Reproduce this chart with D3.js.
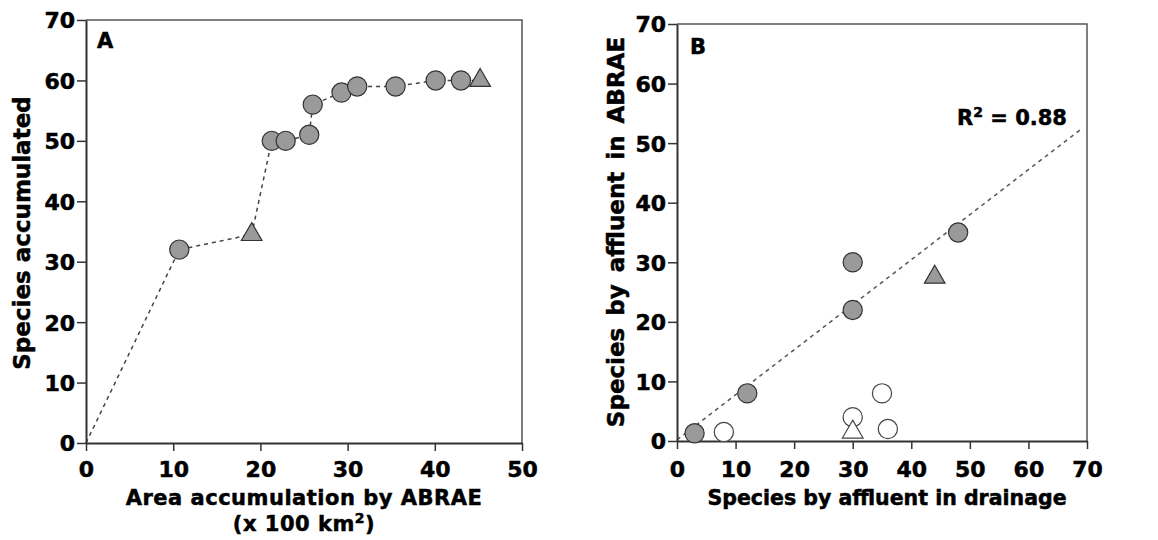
<!DOCTYPE html>
<html>
<head>
<meta charset="utf-8">
<script src="https://cdn.jsdelivr.net/npm/d3@7"></script>
<style>
  body { margin: 0; background: #fff; }
  svg text { font-family: "DejaVu Sans", "Liberation Sans", Arial, sans-serif; font-weight: bold; fill: #000;
             stroke: #000; stroke-width: 0.5px; }
</style>
</head>
<body>
<svg id="chart" width="1158" height="540"></svg>
<script>
// ---- panel A: species accumulation curve ----
var areaA    = [10.7, 19.0, 21.3, 22.9, 25.6, 26.0, 29.3, 31.1, 35.5, 40.1, 43.0, 45.2];
var speciesA = [32,   34.5, 50,   50,   51,   56,   58,   59,   59,   60,   60,   60];
var shapeA   = ["c",  "t",  "c",  "c",  "c",  "c",  "c",  "c",  "c",  "c",  "c",  "t"];

// ---- panel B: species by affluent ----
var drainB = [3,   12, 30, 30, 48, 44,   8,   30, 35, 36, 30];
var abraeB = [1.3, 8,  22, 30, 35, 27.5, 1.5, 4,  8,  2,  1.5];
var shapeB = ["c", "c", "c", "c", "c", "t", "c", "c", "c", "c", "t"];
var fillB  = ["g", "g", "g", "g", "g", "g", "w", "w", "w", "w", "w"];
var fitB   = [[0, 0.2], [68.8, 52.2]];   // regression line ends, data units

var ticksA_x = [0, 10, 20, 30, 40, 50];
var ticksA_y = [0, 10, 20, 30, 40, 50, 60, 70];
var ticksB   = [0, 10, 20, 30, 40, 50, 60, 70];

var svg = d3.select("#chart");
var gray = "#9a9a9a", edge = "#333";

function frame(g, x, y) {
  var x0 = x.range()[0], x1 = x.range()[1], y0 = y.range()[0], y1 = y.range()[1];
  g.append("path")
    .attr("d", "M" + x0 + "," + y1 + "H" + x1 + "V" + y0)
    .attr("fill", "none").attr("stroke", "#555").attr("stroke-width", 1.5);
}

function axes(g, x, y, xt, yt, pad) {
  var ax = g.append("g").attr("transform", "translate(0," + y.range()[0] + ")")
    .call(d3.axisBottom(x).tickValues(xt).tickSize(8).tickPadding(pad).tickSizeOuter(0));
  var ay = g.append("g").attr("transform", "translate(" + x.range()[0] + ",0)")
    .call(d3.axisLeft(y).tickValues(yt).tickSize(9).tickPadding(2).tickSizeOuter(0));
  [ax, ay].forEach(function(a) {
    a.attr("font-family", null).attr("font-size", null);
    a.select(".domain").attr("stroke", "#333").attr("stroke-width", 2);
    a.selectAll(".tick line").attr("stroke", "#333").attr("stroke-width", 1.5);
    a.selectAll(".tick text").style("font-size", "22px").attr("fill", "#000");
  });
  ay.selectAll(".tick text").attr("dy", "0.36em");
}

function marks(g, pts) {
  g.selectAll("path.pt").data(pts).enter().append("path")
    .attr("class", "pt")
    .attr("transform", function(d) { return "translate(" + d.px + "," + d.py + ")"; })
    .attr("d", function(d) {
      return d.shape === "t" ? d3.symbol(d3.symbolTriangle, 185)() : d3.symbol(d3.symbolCircle, 290)();
    })
    .attr("fill", function(d) { return d.fill === "w" ? "#fff" : gray; })
    .attr("stroke", function(d) { return d.fill === "w" ? "#444" : edge; })
    .attr("stroke-width", 1.2);
}

// ---------- Panel A ----------
var xA = d3.scaleLinear().domain([0, 50]).range([86, 522]);
var yA = d3.scaleLinear().domain([0, 70]).range([443, 20]);
var gA = svg.append("g");
frame(gA, xA, yA);

var lineA = [[0, 0]].concat(areaA.map(function(a, i) { return [a, speciesA[i]]; }));
gA.append("path")
  .attr("d", d3.line().x(function(d) { return xA(d[0]); }).y(function(d) { return yA(d[1]); })(lineA))
  .attr("fill", "none").attr("stroke", "#444").attr("stroke-width", 1.5)
  .attr("stroke-dasharray", "4,4");

axes(gA, xA, yA, ticksA_x, ticksA_y, 10);
marks(gA, areaA.map(function(a, i) {
  return { px: xA(a), py: yA(speciesA[i]), shape: shapeA[i], fill: "g" };
}));

gA.append("text").attr("x", 97).attr("y", 48).style("font-size", "21px").text("A");
gA.append("text").attr("x", 304).attr("y", 505).attr("text-anchor", "middle")
  .style("font-size", "21px").style("letter-spacing", "0.5px").text("Area accumulation by ABRAE");
var t2 = gA.append("text").attr("x", 304).attr("y", 531).attr("text-anchor", "middle")
  .style("font-size", "21px").style("letter-spacing", "0.5px");
t2.append("tspan").text("(x 100 km");
t2.append("tspan").attr("dy", "-8").style("font-size", "14px").text("2");
t2.append("tspan").attr("dy", "8").text(")");
gA.append("text").attr("transform", "translate(30,233) rotate(-90)").attr("text-anchor", "middle")
  .style("font-size", "23px").text("Species accumulated");

// ---------- Panel B ----------
var xB = d3.scaleLinear().domain([0, 70]).range([677, 1087]);
var yB = d3.scaleLinear().domain([0, 70]).range([441, 24]);
var gB = svg.append("g");
frame(gB, xB, yB);

gB.append("line")
  .attr("x1", xB(fitB[0][0])).attr("y1", yB(fitB[0][1]))
  .attr("x2", xB(fitB[1][0])).attr("y2", yB(fitB[1][1]))
  .attr("stroke", "#555").attr("stroke-width", 1.5).attr("stroke-dasharray", "4,4");

axes(gB, xB, yB, ticksB, ticksB, 12);
marks(gB, drainB.map(function(d, i) {
  return { px: xB(d), py: yB(abraeB[i]), shape: shapeB[i], fill: fillB[i] };
}));

gB.append("text").attr("x", 690).attr("y", 54).style("font-size", "21px").text("B");
var r2 = gB.append("text").attr("x", 957).attr("y", 125).style("font-size", "21px");
r2.append("tspan").text("R");
r2.append("tspan").attr("dy", "-8").style("font-size", "14px").text("2");
r2.append("tspan").attr("dy", "8").text(" = 0.88");
gB.append("text").attr("x", 887).attr("y", 505).attr("text-anchor", "middle")
  .style("font-size", "20.5px").text("Species by affluent in drainage");
gB.append("text").attr("transform", "translate(624,232) rotate(-90)").attr("text-anchor", "middle")
  .style("font-size", "23px").style("word-spacing", "4px").text("Species by affluent in ABRAE");
</script>
</body>
</html>
